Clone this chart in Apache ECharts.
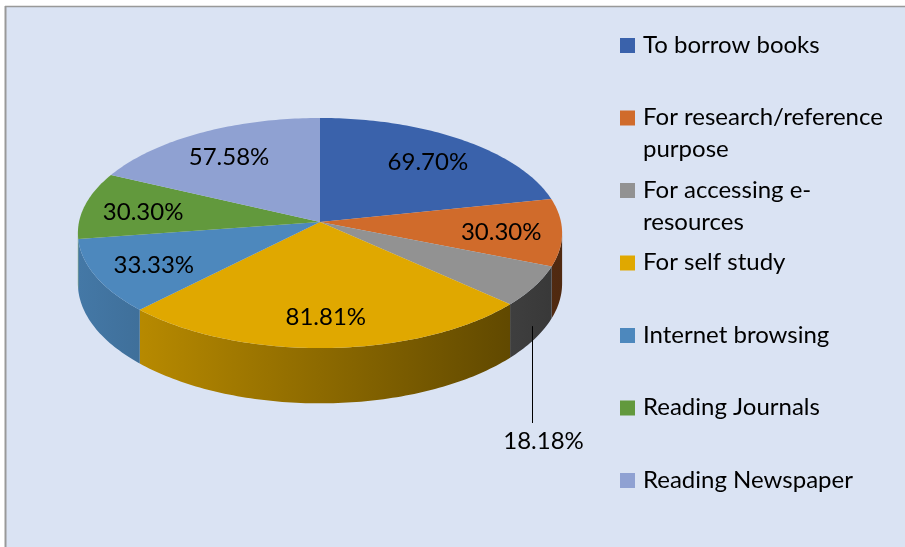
<!DOCTYPE html>
<html>
<head>
<meta charset="utf-8">
<script src="https://cdn.jsdelivr.net/npm/echarts@6/dist/echarts.min.js"></script>
<style>
  html, body { margin: 0; padding: 0; background: #ffffff; }
  #chart { width: 905px; height: 547px; }
</style>
</head>
<body>
<div id="chart"></div>
<script>
// ---- data ----
const categories = [
  'To borrow books',
  'For research/reference\npurpose',
  'For accessing e-\nresources',
  'For self study',
  'Internet browsing',
  'Reading Journals',
  'Reading Newspaper'
];
const values = [69.70, 30.30, 18.18, 81.81, 33.33, 30.30, 57.58];
const valueLabels = ['69.70%', '30.30%', '18.18%', '81.81%', '33.33%', '30.30%', '57.58%'];
const colors = ['#3A62AB', '#D06B2B', '#929292', '#E0A800', '#4D88BD', '#62993D', '#8FA1D2'];

// ---- style / geometry (perspective projection of a tilted disc) ----
const FONT = 'Lato, "Open Sans", sans-serif';
const CX = 320, CY = 222;      // projected centre of the disc
const A = 114, B = 241;        // vertical / horizontal radius scale
const P = 0.0957;              // perspective strength
const D = 50;                  // thickness
const total = values.reduce((a, b) => a + b, 0);
const starts = [];
{ let acc = 0; values.forEach(v => { starts.push(acc / total * 360); acc += v; }); }

function proj(a, k, down) {
  const r = a * Math.PI / 180;
  const u = k * Math.cos(r), w = k * Math.sin(r);
  const den = 1 + P * u;
  return [CX + B * w / den, CY - A * u / den + (down ? D / den : 0)];
}
function shade(hex, f) {
  const n = parseInt(hex.slice(1), 16);
  const r = Math.round(((n >> 16) & 255) * f), g = Math.round(((n >> 8) & 255) * f), b = Math.round((n & 255) * f);
  return 'rgb(' + r + ',' + g + ',' + b + ')';
}
const SIL = Math.acos(-P) * 180 / Math.PI; // silhouette angle

function renderItem(params, api) {
  const i = params.dataIndex;
  const v = api.value(0);
  const a0 = starts[i];
  const a1 = a0 + v / total * 360;
  const children = [];
  // side wall (front, visible part only)
  const s0 = Math.max(a0, SIL), s1 = Math.min(a1, 360 - SIL);
  if (s1 > s0) {
    const pts = [];
    for (let a = s0; a < s1; a += 1) pts.push(proj(a, 1));
    pts.push(proj(s1, 1));
    for (let a = s1; a > s0; a -= 1) pts.push(proj(a, 1, true));
    pts.push(proj(s0, 1, true));
    children.push({
      type: 'polygon', z2: 1,
      shape: { points: pts },
      style: {
        fill: {
          type: 'linear', x: CX - B, y: 0, x2: CX + B, y2: 0, global: true,
          colorStops: [
            { offset: 0, color: shade(colors[i], 0.88) },
            { offset: 1, color: shade(colors[i], 0.38) }
          ]
        }
      }
    });
  }
  // top face
  const top = [[CX, CY]];
  for (let a = a0; a < a1; a += 1) top.push(proj(a, 1));
  top.push(proj(a1, 1));
  children.push({ type: 'polygon', z2: 2, shape: { points: top }, style: { fill: colors[i] } });

  // label
  const mid = (a0 + a1) / 2;
  if (v < 20) {
    const p = proj(mid, 1);
    const lx = Math.round(p[0] - 3) + 0.5;
    children.push({ type: 'line', z2: 5, shape: { x1: lx, y1: p[1] + D * 0.8, x2: lx, y2: 423 },
      style: { stroke: '#000', lineWidth: 1 } });
    children.push({ type: 'text', z2: 10, style: { text: valueLabels[i], x: lx + 11, y: 441,
      align: 'center', verticalAlign: 'middle', font: '24px ' + FONT, fill: '#000' } });
  } else {
    const p = proj(mid, 0.75);
    children.push({ type: 'text', z2: 10, style: {
      text: valueLabels[i], x: p[0], y: p[1] + 3,
      align: 'center', verticalAlign: 'middle', font: '24px ' + FONT, fill: '#000' } });
  }
  return { type: 'group', children: children };
}

// ---- background, frame and legend as graphics ----
const graphics = [
  { type: 'rect', shape: { x: 6, y: 6, width: 905, height: 547 }, style: { fill: '#DAE3F3' }, z: -10 },
  { type: 'line', shape: { x1: 5.5, y1: 6, x2: 5.5, y2: 547 }, style: { stroke: '#999', lineWidth: 2 }, z: -9 },
  { type: 'line', shape: { x1: 5, y1: 6.5, x2: 905, y2: 6.5 }, style: { stroke: '#999', lineWidth: 1.5 }, z: -9 }
];
categories.forEach((name, i) => {
  const yc = 45.5 + i * 72.5;
  graphics.push({ type: 'rect', shape: { x: 620, y: yc - 7.5, width: 15, height: 15 }, style: { fill: colors[i] } });
  graphics.push({ type: 'text', style: { text: name, x: 643, y: yc - 16.5, verticalAlign: 'top',
    font: '24px ' + FONT, lineHeight: 32, fill: '#000' } });
});

const chart = echarts.init(document.getElementById('chart'), null, { renderer: 'canvas' });
chart.setOption({
  backgroundColor: '#ffffff',
  animation: false,
  graphic: graphics,
  series: [{
    type: 'custom',
    coordinateSystem: 'none',
    data: values.map((v, i) => ({ name: categories[i], value: [v] })),
    renderItem: renderItem
  }]
});
</script>
</body>
</html>
